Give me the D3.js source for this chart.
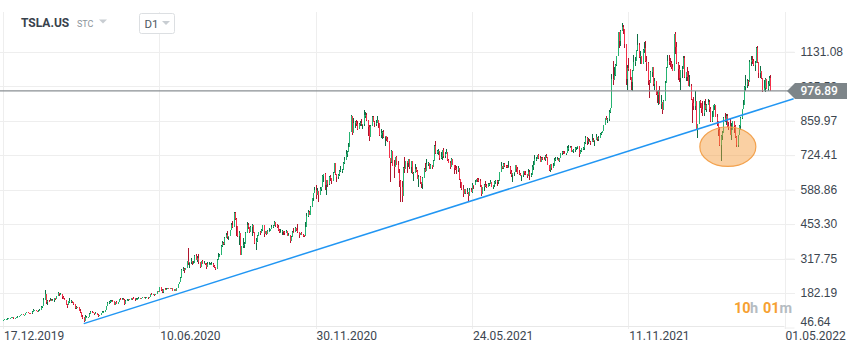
<!DOCTYPE html>
<html>
<head>
<meta charset="utf-8">
<script src="https://d3js.org/d3.v7.min.js"></script>
<style>
  body { margin: 0; background: #fff; }
  svg { display: block; font-family: Roboto, "Open Sans", sans-serif; }
</style>
</head>
<body>
<svg id="chart" width="859" height="352"></svg>
<script>
// TSLA.US D1, one value per trading day from 17.12.2019 to 20.04.2022
// open of a day = close of the day before
var firstOpen = 75;
var closes = [
  76,79,81,81,84,85,86,86,83,84,
  86,89,90,94,98,96,96,105,108,104,103,102,109,114,114,113,112,113,117,128,130,
  156,177,147,150,149,154,153,154,162,160,172,184,180,180,167,160,156,136,134,
  149,149,150,145,141,122,129,127,112,109,89,86,72,86,86,87,101,108,106,103,100,105,
  96,91,96,103,109,109,115,130,142,146,149,151,149,137,146,141,145,160,154,160,156,
  140,152,154,157,156,164,162,161,158,160,160,163,162,163,166,163,164,165,161,167,
  180,176,177,173,177,190,188,205,195,187,198,196,198,201,200,199,200,192,197,192,202,216,
  224,242,274,278,273,279,309,299,303,309,300,300,329,314,319,303,283,308,295,300,298,286,
  297,297,297,298,290,284,275,311,324,330,367,377,376,400,410,403,405,431,448,443,498,
  475,447,407,418,330,366,371,373,420,450,442,423,442,449,424,380,388,407,421,419,429,
  448,415,426,414,425,426,434,442,447,461,449,440,431,422,423,426,421,420,425,406,411,388,
  401,424,421,438,430,421,410,417,412,409,408,442,487,499,490,522,555,574,586,568,
  585,569,593,599,642,650,605,627,610,640,633,623,656,695,650,640,646,662,664,666,695,706,
  730,735,756,816,880,811,849,854,845,826,845,850,845,847,881,883,864,835,794,
  840,873,855,850,852,863,850,805,812,816,796,798,787,781,714,699,742,682,676,
  718,686,653,621,598,563,674,668,700,694,708,677,702,653,655,670,662,630,640,619,611,636,668,
  662,691,692,671,684,677,702,762,732,739,740,715,719,744,720,729,738,705,694,677,709,
  685,674,671,664,672,629,617,590,572,590,577,578,564,587,581,606,605,619,631,625,
  624,605,573,599,605,604,599,610,610,618,599,605,617,623,621,624,657,680,672,689,681,680,
  678,679,660,645,653,657,686,669,653,651,644,646,661,655,649,643,658,645,647,677,687,
  710,710,725,715,699,714,710,708,722,717,686,666,689,674,680,706,709,711,701,712,731,736,
  734,732,734,753,754,755,736,743,745,754,756,760,730,739,752,754,774,791,778,781,776,
  775,782,781,783,794,786,792,806,811,818,843,870,864,866,894,910,1025,1018,1038,1077,1114,
  1209,1172,1214,1230,1222,1163,1024,1068,1064,1033,1013,1055,1089,1096,1137,1157,1109,1116,1082,1137,1145,
  1095,1085,1015,1009,1052,1069,1004,1017,966,959,976,927,933,900,939,1009,1067,1094,1089,1086,1070,1057,
  1200,1150,1088,1065,1027,1058,1064,1106,1032,1050,1031,996,996,944,930,918,937,829,846,937,
  931,906,891,923,907,922,932,905,860,876,922,923,876,857,822,764,801,810,870,
  864,880,839,838,805,824,859,838,795,766,802,840,872,905,921,994,999,1014,1011,1092,1100,1094,1078,
  1085,1145,1091,1046,1057,1026,976,987,1022,985,1004,1028,977
];
var highs = [
  77,80,81,83,85,85,87,88,87,84,
  86,90,91,95,99,99,97,105,109,108,104,103,110,119,117,116,113,115,119,130,130,
  161,194,170,154,153,164,157,157,164,163,172,188,184,183,172,170,162,151,138,
  150,161,153,149,142,132,133,129,119,121,99,95,80,94,92,87,102,111,113,107,103,108,
  103,98,97,104,113,112,116,130,148,152,154,154,153,147,147,149,146,160,162,164,161,
  157,153,158,158,159,164,164,166,163,161,161,165,164,164,166,166,166,165,165,167,
  180,181,180,178,178,190,191,206,203,198,199,202,201,202,203,201,203,199,198,198,202,217,
  227,245,275,286,281,280,310,359,306,318,306,310,330,335,326,336,294,309,313,307,299,302,
  303,306,300,303,301,292,284,315,340,334,370,385,383,404,419,425,405,431,459,464,500,
  502,479,431,428,368,369,398,382,421,461,457,437,444,455,437,412,399,409,423,428,433,
  449,439,428,428,429,439,435,449,448,466,456,455,448,432,432,430,423,425,430,419,418,407,
  406,427,436,440,436,452,421,418,423,413,412,463,496,508,503,526,555,574,598,607,
  597,572,598,600,648,651,654,628,624,643,647,633,658,695,668,650,651,666,682,670,696,718,
  744,740,774,817,884,854,869,860,864,860,851,859,865,848,901,895,892,848,842,
  842,880,878,857,864,877,860,844,829,818,824,799,795,797,768,713,745,738,706,
  719,721,700,669,625,621,678,718,702,694,708,707,702,688,657,688,678,667,645,641,616,637,672,
  692,708,696,692,689,680,704,763,780,743,749,730,737,745,754,737,750,725,708,700,715,
  706,680,684,681,681,665,619,620,606,592,589,596,567,594,596,614,607,627,631,636,
  633,629,591,600,610,623,611,616,613,625,617,608,621,625,627,628,658,698,680,695,692,687,
  687,700,681,664,654,658,687,685,678,666,656,647,662,662,662,649,668,664,654,684,700,
  726,719,726,727,720,719,717,716,723,729,714,687,691,686,692,712,716,716,715,715,732,741,
  742,741,734,760,764,762,762,744,747,755,758,762,742,744,753,758,775,799,795,793,789,
  780,806,791,783,806,797,801,812,815,820,843,872,878,870,900,910,1045,1094,1070,1081,1115,
  1209,1208,1216,1243,1238,1198,1153,1079,1105,1055,1032,1058,1119,1112,1138,1201,1166,1133,1108,1142,1168,
  1172,1113,1090,1021,1057,1072,1063,1026,1016,975,979,995,961,935,940,1015,1072,1117,1119,1105,1095,1082,
  1202,1208,1170,1089,1080,1059,1075,1114,1116,1053,1070,1055,1041,1004,934,952,978,935,848,937,
  942,931,937,937,947,926,946,943,915,898,923,926,918,886,856,835,802,819,876,
  889,886,887,855,866,849,860,854,843,800,805,843,875,907,942,997,1040,1024,1021,1097,1114,1113,1103,
  1094,1150,1152,1079,1076,1049,1009,1021,1026,1013,1014,1034,1041
];
var lows = [
  75,76,78,81,82,83,85,85,82,81,
  84,86,88,90,94,95,94,96,104,102,100,100,101,109,111,110,108,111,113,126,125,
  134,166,140,137,146,150,151,152,147,155,159,175,171,175,160,158,153,134,123,
  136,144,144,143,135,121,121,122,112,102,89,79,70,73,83,83,92,102,104,102,96,100,
  95,89,90,97,106,107,109,115,137,140,144,148,146,134,139,140,139,150,153,153,154,
  136,140,150,152,155,156,156,160,150,155,157,160,160,160,162,162,162,161,160,161,
  168,173,176,171,173,178,186,194,192,181,184,193,196,197,198,198,198,189,190,191,190,200,
  216,242,256,270,262,273,282,294,281,296,292,298,299,313,305,296,282,288,295,297,292,278,
  287,292,293,295,284,280,273,283,313,322,335,364,370,370,405,394,392,410,429,437,444,
  470,405,402,372,330,341,360,360,380,430,435,417,425,407,417,375,352,384,406,412,421,
  428,403,417,411,414,424,426,440,436,444,442,439,428,419,420,410,410,410,420,406,406,380,
  387,405,417,424,425,420,398,411,409,402,404,439,454,481,488,495,524,545,581,551,
  572,542,580,585,609,618,588,567,600,608,622,610,629,668,646,620,630,641,660,655,672,691,
  718,719,750,775,838,803,816,833,838,823,833,837,838,828,838,871,858,801,780,
  796,842,853,836,838,855,832,800,792,786,791,762,778,777,713,619,695,680,633,
  685,685,653,600,540,540,595,655,677,656,676,670,656,652,624,653,657,629,600,609,597,592,641,
  657,684,681,670,671,670,680,710,728,729,724,707,708,705,713,715,732,702,693,668,677,
  684,650,666,650,657,628,595,586,559,577,571,573,546,579,580,574,592,607,617,620,
  620,599,563,573,582,599,597,600,602,611,598,592,601,612,603,612,623,666,668,671,678,675,
  672,673,651,640,620,642,662,659,650,645,642,624,640,645,646,636,642,627,640,647,667,
  700,700,708,711,696,698,704,706,703,714,685,663,659,667,673,680,701,704,700,697,712,726,
  730,731,724,739,740,751,736,735,734,736,745,747,719,734,735,746,745,769,766,770,775,
  763,776,776,762,786,780,781,790,804,813,822,851,861,851,860,889,950,1002,1030,1036,1073,
  1118,1146,1155,1218,1201,1146,1002,982,1055,1020,979,978,1056,1075,1093,1133,1107,1081,1081,1100,1125,
  1090,1057,1000,950,1027,1033,996,982,960,931,921,925,906,887,901,957,1009,1070,1078,1070,1063,1054,
  1081,1124,1081,1020,1010,980,1028,1072,1026,1014,1016,995,994,940,851,903,900,829,792,862,
  908,889,880,880,902,894,920,895,853,853,893,901,874,837,801,760,700,782,815,
  853,844,835,825,804,782,832,810,793,756,756,809,825,867,907,922,977,988,997,1023,1073,1084,1076,
  1054,1089,1087,1028,1027,1022,974,976,973,983,977,995,975
];

var lastPrice = 976.89;
var priceTicks = [46.64, 182.19, 317.75, 453.30, 588.86, 724.41, 859.97, 995.53, 1131.08];
// trading day index of each date label
var dateTicks = [0, 120, 240, 360, 480, 600];
var dateLabels = ['17.12.2019', '10.06.2020', '30.11.2020', '24.05.2021', '11.11.2021', '01.05.2022'];

// drawings on the chart: trend line [day, price] and the marked zone
var trendFrom = [62, 62];
var trendTo = [607, 946];
var zoneDays = [535, 578];
var zonePrices = [680, 835];

function buildChart() {
  var svg = d3.select('#chart');
  var plotRight = 784.5;

  var x = d3.scaleLinear().domain([0, 600]).range([3, plotRight]);
  var y = d3.scaleLinear().domain([46.64, 1131.08]).range([327.5, 51.7]);

  var gridG = svg.append('g');
  gridG.selectAll('.hgrid')
    .data(priceTicks.slice(1))
    .enter().append('line')
    .attr('x1', 0).attr('x2', 795)
    .attr('y1', d => Math.round(y(d)) + 0.5)
    .attr('y2', d => Math.round(y(d)) + 0.5)
    .attr('stroke', '#eeeeee');
  gridG.selectAll('.vgrid')
    .data(dateTicks)
    .enter().append('line')
    .attr('x1', d => Math.round(x(d)) + 0.5)
    .attr('x2', d => Math.round(x(d)) + 0.5)
    .attr('y1', 12).attr('y2', 329)
    .attr('stroke', '#eeeeee');
  gridG.append('line')
    .attr('x1', 0).attr('x2', plotRight)
    .attr('y1', 326.5).attr('y2', 326.5)
    .attr('stroke', '#e8e8e8');

  // candles
  var candles = closes.map(function(c, i) {
    var o = i === 0 ? firstOpen : closes[i - 1];
    var h = highs[i] === undefined ? c : highs[i];
    var l = lows[i] === undefined ? c : lows[i];
    return { i: i, o: o, c: c, h: Math.max(h, o, c), l: Math.min(l, o, c) };
  });

  var candleG = svg.append('g').attr('shape-rendering', 'crispEdges');
  var cg = candleG.selectAll('.candle')
    .data(candles)
    .enter().append('g')
    .attr('class', 'candle');
  cg.append('line')
    .attr('x1', d => Math.round(x(d.i)) + 0.5)
    .attr('x2', d => Math.round(x(d.i)) + 0.5)
    .attr('y1', d => y(d.h))
    .attr('y2', d => y(d.l))
    .attr('stroke', d => d.c >= d.o ? '#0f6f45' : '#b0162e');
  cg.append('rect')
    .attr('x', d => Math.round(x(d.i)))
    .attr('width', 1)
    .attr('y', d => y(Math.max(d.o, d.c)))
    .attr('height', d => Math.max(1, Math.abs(y(d.o) - y(d.c))))
    .attr('fill', d => d.c >= d.o ? '#25b472' : '#f5304a');

  // current price line
  svg.append('line')
    .attr('x1', 0).attr('x2', 788)
    .attr('y1', y(lastPrice)).attr('y2', y(lastPrice))
    .attr('stroke', '#8a8f93')
    .attr('stroke-width', 1.2);

  // trend line
  svg.append('line')
    .attr('x1', x(trendFrom[0])).attr('y1', y(trendFrom[1]))
    .attr('x2', x(trendTo[0])).attr('y2', y(trendTo[1]))
    .attr('stroke', '#2196f3')
    .attr('stroke-width', 1.5);

  // marked zone
  svg.append('ellipse')
    .attr('cx', (x(zoneDays[0]) + x(zoneDays[1])) / 2)
    .attr('cy', (y(zonePrices[0]) + y(zonePrices[1])) / 2)
    .attr('rx', (x(zoneDays[1]) - x(zoneDays[0])) / 2)
    .attr('ry', (y(zonePrices[0]) - y(zonePrices[1])) / 2)
    .attr('fill', 'rgba(245,150,50,0.45)')
    .attr('stroke', '#f3a24e')
    .attr('stroke-width', 1.2);

  // price axis
  var yAxisG = svg.append('g')
    .attr('transform', 'translate(' + plotRight + ',0)')
    .call(d3.axisRight(y).tickValues(priceTicks).tickSize(10).tickPadding(6)
      .tickFormat(d3.format('.2f')));
  yAxisG.select('.domain').remove();
  yAxisG.selectAll('line').attr('stroke', '#eeeeee');
  yAxisG.selectAll('text')
    .attr('fill', '#3c4650')
    .style('font-size', '12px')
    .attr('transform', d => d === priceTicks[0] ? 'translate(0,-6)' : null);

  // date axis
  var xAxisG = svg.append('g');
  xAxisG.selectAll('text')
    .data(dateTicks)
    .enter().append('text')
    .attr('x', d => x(d) + 1)
    .attr('y', 339.5)
    .attr('fill', '#3c4650')
    .style('font-size', '12px')
    .text((d, i) => dateLabels[i]);

  // last price tag
  var ty = y(lastPrice);
  svg.append('path')
    .attr('d', 'M' + 787 + ',' + ty + 'L795,' + (ty - 8) + 'H847V' + (ty + 8) + 'H795Z')
    .attr('fill', '#7d8589');
  svg.append('text')
    .attr('x', 800.5).attr('y', ty).attr('dy', '0.36em')
    .attr('fill', '#ffffff')
    .style('font-size', '12px')
    .style('font-weight', 500)
    .text(d3.format('.2f')(lastPrice));

  // header
  svg.append('text')
    .attr('x', 21).attr('y', 27)
    .attr('fill', '#38424c')
    .style('font-size', '12px').style('font-weight', 'bold')
    .text('TSLA.US');
  svg.append('text')
    .attr('x', 77).attr('y', 27)
    .attr('fill', '#8c949b')
    .style('font-size', '9px')
    .text('STC');
  svg.append('path').attr('d', 'M99,19.5H107L103,23.5Z').attr('fill', '#c8cdd2');
  svg.append('rect')
    .attr('x', 139.5).attr('y', 13.5).attr('width', 35).attr('height', 20).attr('rx', 2)
    .attr('fill', '#fff').attr('stroke', '#dcdfe2');
  svg.append('text')
    .attr('x', 144.5).attr('y', 27.5)
    .attr('fill', '#4d5862')
    .style('font-size', '11.5px')
    .text('D1');
  svg.append('path').attr('d', 'M162,21H170L166,25Z').attr('fill', '#c8cdd2');

  // candle timer
  var timer = [['10', 734, '#f6a030'], ['h', 750, '#b5bcc2'], ['01', 763, '#f6a030'], ['m', 779.5, '#b5bcc2']];
  svg.selectAll('.timer')
    .data(timer)
    .enter().append('text')
    .attr('x', d => d[1]).attr('y', 312.5)
    .attr('fill', d => d[2])
    .style('font-size', '14.5px').style('font-weight', 'bold')
    .text(d => d[0]);
}

buildChart();
</script>
</body>
</html>
